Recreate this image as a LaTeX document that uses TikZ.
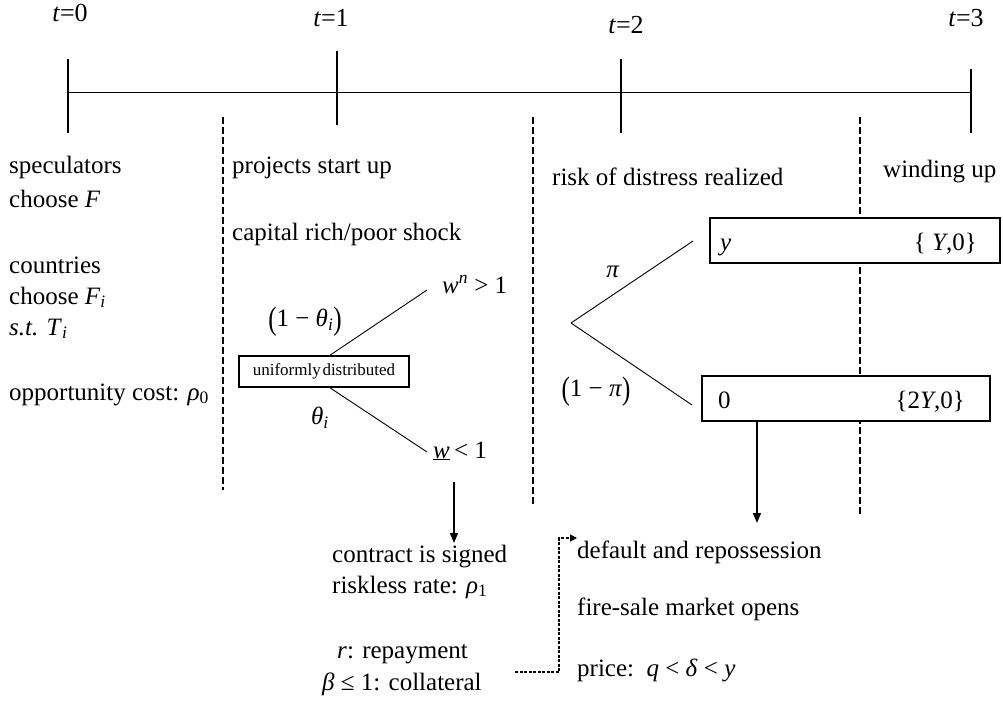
\documentclass[tikz,border=0pt]{standalone}
\usepackage{fontspec}
\setmainfont{Liberation Serif}
\usepackage{graphicx}
\usetikzlibrary{arrows.meta}
\newcommand{\tpar}[1]{\raisebox{-0.12em}{\scalebox{1}[1.3]{#1}}}
\begin{document}
\begin{tikzpicture}[x=1pt,y=-1pt,
  txt/.style={inner sep=0pt, anchor=base west, font=\fontsize{25}{30}\selectfont},
  ctxt/.style={inner sep=0pt, anchor=center, font=\fontsize{25}{30}\selectfont},
  tlab/.style={inner sep=0pt, anchor=base, font=\fontsize{26}{30}\selectfont},
  axis/.style={line width=1.6pt},
  sepline/.style={line width=1.8pt, dash pattern=on 7pt off 3pt},
  branch/.style={line width=0.9pt},
  outbox/.style={draw, line width=1.6pt, fill=white, minimum height=45pt, inner sep=0pt},
  arr/.style={line width=1.6pt, -{Triangle[length=10pt,width=8pt]}},
  dotarr/.style={line width=1.2pt, dash pattern=on 3pt off 1.5pt, -{Triangle[length=7pt,width=7pt]}}
]
\useasboundingbox[fill=white] (0,0) rectangle (1003,704);

% timeline
\coordinate (T0) at (68,92.5);
\coordinate (T1) at (337,92.5);
\coordinate (T2) at (621,92.5);
\coordinate (T3) at (971,92.5);
\draw[axis] (T0) -- (T3);
\draw[axis] (68,59) -- (68,133);
\draw[axis] (337,51) -- (337,125);
\draw[axis] (621,59) -- (621,133);
\draw[axis] (971,69) -- (971,133);
\node[tlab] (lt0) at (70,21) {\textit{t}=0};
\node[tlab] (lt1) at (331,27) {\textit{t}=1};
\node[tlab] (lt2) at (626,33) {\textit{t}=2};
\node[tlab] (lt3) at (966,27) {\textit{t}=3};

% separators
\coordinate (s1a) at (222.7,117); \coordinate (s1b) at (222.7,490);
\coordinate (s2a) at (533,117); \coordinate (s2b) at (533,507);
\coordinate (s3a) at (860,117); \coordinate (s3b) at (860,515);
\draw[sepline] (s1a) -- (s1b);
\draw[sepline] (s2a) -- (s2b);
\draw[sepline] (s3a) -- (s3b);

% left column
\node[txt] (spec) at (9,173) {speculators};
\node[txt] (chF) at (9,207) {choose \textit{F}};
\node[txt] (ctry) at (9,273) {countries};
\node[txt] (chFi) at (9,304) {choose \textit{F}\textsubscript{\textit{i}}};
\node[txt] (st) at (9,335) {\textit{s.t. T}\textsubscript{\textit{i}}};
\node[txt] (opp) at (9,400) {opportunity cost: \textit{ρ}\textsubscript{0}};

% second column
\node[txt] (proj) at (232,173) {projects start up};
\node[txt] (cap) at (232,240) {capital rich/poor shock};
\node[draw, line width=1.6pt, minimum width=170pt, minimum height=31pt, inner sep=0pt,
      font=\fontsize{17}{20}\selectfont] (ud) at (324,371.5) {uniformly\hspace{0.1em}distributed};
\coordinate (wnend) at (427,290);
\coordinate (wlend) at (427,452);
\draw[branch] ([xshift=6pt]ud.north) -- (wnend);
\draw[branch] ([xshift=6pt]ud.south) -- (wlend);
\node[txt] (wn) at (442,293) {\textit{w}\textsuperscript{\textit{n}} > 1};
\node[txt] (wl) at (433,458) {\underline{\textit{w}}\,< 1};
\node[ctxt] (pth) at (305,322) {\tpar{(}1 − \textit{θ}\textsubscript{\textit{i}}\tpar{)}};
\node[ctxt] (th) at (320,418) {\textit{θ}\textsubscript{\textit{i}}};
\coordinate (a1s) at (454,482);
\coordinate (a1e) at (454,543);
\draw[arr] (a1s) -- (a1e);
\node[txt] (contract) at (332,562) {contract is signed};
\node[txt] (riskless) at (332,593) {riskless rate: \textit{ρ}\textsubscript{1}};
\node[txt] (repay) at (337,658) {\textit{r}: repayment};
\node[txt] (coll) at (322,690) {\textit{β} ≤ 1: collateral};

% third column
\node[txt] (risk) at (552,185) {risk of distress realized};
\coordinate (apex) at (571,323);
\coordinate (upend) at (693,241);
\coordinate (loend) at (692,405);
\draw[branch] (apex) -- (upend);
\draw[branch] (apex) -- (loend);
\node[ctxt] (pi) at (613,272) {\textit{π}};
\node[ctxt] (ompi) at (596,392) {\tpar{(}1 − \textit{π}\tpar{)}};

% outcome boxes
\node[outbox, minimum width=290pt] (boxY) at (855,240.5) {};
\node[txt] (yl) at (720,250) {\textit{y}};
\node[txt, anchor=base east] (yr) at (977,250) {\{ \textit{Y},0\}};
\node[outbox, minimum width=288pt] (box0) at (846,398.5) {};
\node[txt] (zl) at (718,408) {0};
\node[txt, anchor=base east] (zr) at (965,408) {\{2\textit{Y},0\}};

\node[txt] (wind) at (883,177) {winding up};

\coordinate (a2e) at (757,523);
\draw[arr] (box0.south -| a2e) -- (a2e);

% bottom right
\node[txt] (def) at (577,558) {default and repossession};
\node[txt] (fire) at (577,615) {fire-sale market opens};
\node[txt] (price) at (577,676) {price:\ \ \textit{q} < \textit{δ} < \textit{y}};

\coordinate (ds) at (515,672);
\coordinate (dc) at (559,538);
\draw[dotarr] (ds) -| (dc) -- (def.west |- dc);
\end{tikzpicture}
\end{document}
